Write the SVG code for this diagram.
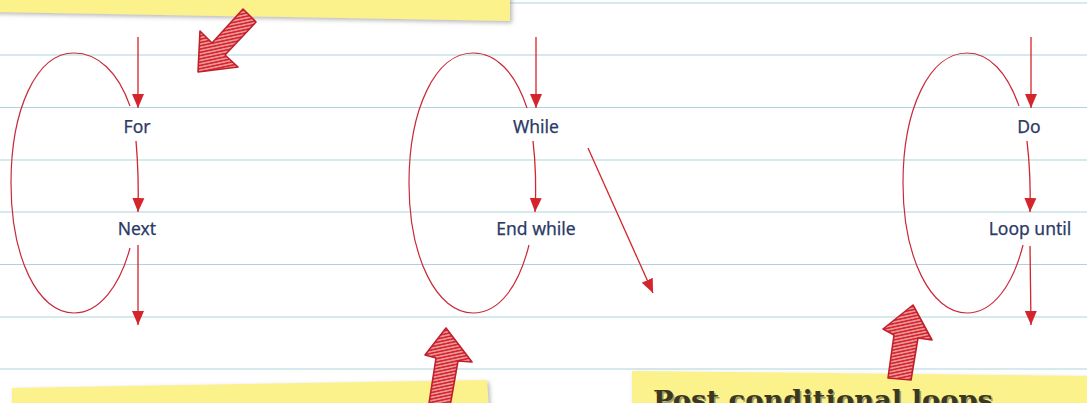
<svg xmlns="http://www.w3.org/2000/svg" width="1087" height="403" viewBox="0 0 1087 403">
<defs>
<style>
.rule{stroke:#aed3da;stroke-width:1.2}
.loop{fill:none;stroke:#c92a3a;stroke-width:1.2}
.flow{fill:none;stroke:#d4242c;stroke-width:1.3}
.lbl{font-family:"Noto Sans","DejaVu Sans",sans-serif;font-size:17.5px;fill:#2b3a66;stroke:#2b3a66;stroke-width:0.25;text-anchor:middle}
.note{fill:#fcf28c;filter:url(#sh)}
.big{fill:url(#hatch);stroke:#c01f2b;stroke-width:1.6;stroke-linejoin:round}
.title{font-family:"DejaVu Serif",serif;font-weight:bold;font-size:26px;fill:#3a3920}
</style>
<marker id="ah" markerUnits="userSpaceOnUse" markerWidth="14" markerHeight="14" viewBox="0 0 14 12" refX="14" refY="6" orient="auto">
<path d="M0 0 L14 6 L0 12 Z" fill="#d4242c"/>
</marker>
<pattern id="hatch" patternUnits="userSpaceOnUse" width="6" height="3.2" patternTransform="rotate(-12)">
<rect width="6" height="3.2" fill="#d6262e"/>
<line x1="0" y1="1.6" x2="6" y2="1.6" stroke="#f9dcda" stroke-width="1"/>
</pattern>
<filter id="sh" x="-5%" y="-30%" width="110%" height="160%">
<feDropShadow dx="2" dy="2" stdDeviation="2" flood-color="#888" flood-opacity="0.6"/>
</filter>
</defs>
<rect width="1087" height="403" fill="#ffffff"/>
<g id="rules">
<line class="rule" x1="0" y1="3" x2="1087" y2="3"/>
<line class="rule" x1="0" y1="55" x2="1087" y2="55"/>
<line class="rule" x1="0" y1="107.5" x2="1087" y2="107.5"/>
<line class="rule" x1="0" y1="160" x2="1087" y2="160"/>
<line class="rule" x1="0" y1="212" x2="1087" y2="212"/>
<line class="rule" x1="0" y1="264.5" x2="1087" y2="264.5"/>
<line class="rule" x1="0" y1="317" x2="1087" y2="317"/>
<line class="rule" x1="0" y1="369" x2="1087" y2="369"/>
</g>
<g id="note-top"><polygon class="note" points="-5,-5 510,-5 510,21 -5,12"/></g>
<g id="note-bottom-left"><polygon class="note" points="12,388 487,380 489,410 12,410"/></g>
<g id="note-bottom-right"><polygon class="note" points="632,371 1090,376 1090,410 632,410"/>
<text class="title" x="653" y="409" textLength="340" lengthAdjust="spacingAndGlyphs" dx="1.5" dy="1.5" style="fill:#a39d6a">Post conditional loops</text>
<text class="title" x="653" y="409" textLength="340" lengthAdjust="spacingAndGlyphs">Post conditional loops</text>
</g>
<g id="connectors">
<path class="loop" d="M130 106 C118 72 98 53 74 53 C36 53 11 110 11 183 C11 258 38 313 74 313 C100 313 120 285 130 248"/>
<path class="loop" d="M527 108 C515 72 496 53 473 53 C435 53 409 110 409 183 C409 258 437 313 473 313 C500 313 519 285 529 245"/>
<path class="loop" d="M1019 106 C1007 72 989 53 967 53 C929 53 903 110 903 183 C903 258 931 313 967 313 C993 313 1013 285 1023 245"/>
<path class="flow" marker-end="url(#ah)" d="M138 37 L138 108"/>
<path class="flow" marker-end="url(#ah)" d="M136 141 Q139 175 138 212"/>
<path class="flow" marker-end="url(#ah)" d="M138 245 L138 325"/>
<path class="flow" marker-end="url(#ah)" d="M536 37 L536 108"/>
<path class="flow" marker-end="url(#ah)" d="M533 141 Q537 175 535 212"/>
<path class="flow" marker-end="url(#ah)" d="M588 148 L653 293"/>
<path class="flow" marker-end="url(#ah)" d="M1031 37 L1031 108"/>
<path class="flow" marker-end="url(#ah)" d="M1027 141 Q1031 175 1030 212"/>
<path class="flow" marker-end="url(#ah)" d="M1030 246 L1031 325"/>
</g>
<g id="node-for"><text class="lbl" x="137" y="133">For</text></g>
<g id="node-next"><text class="lbl" x="137" y="235">Next</text></g>
<g id="node-while"><text class="lbl" x="536" y="133">While</text></g>
<g id="node-endwhile"><text class="lbl" x="536" y="235">End while</text></g>
<g id="node-do"><text class="lbl" x="1029" y="133">Do</text></g>
<g id="node-loopuntil"><text class="lbl" x="1030" y="235">Loop until</text></g>
<g id="big-arrows">
<polygon class="big" points="198,72 200,31 212,43 243,9 256,22 225,55 238,67"/>
<polygon class="big" points="446,328 472,362 458,361 449,412 428,410 436,358 425,355"/>
<polygon class="big" points="913,305 932,340 918,338 911,380 888,378 894,335 883,329"/>
</g>
</svg>
